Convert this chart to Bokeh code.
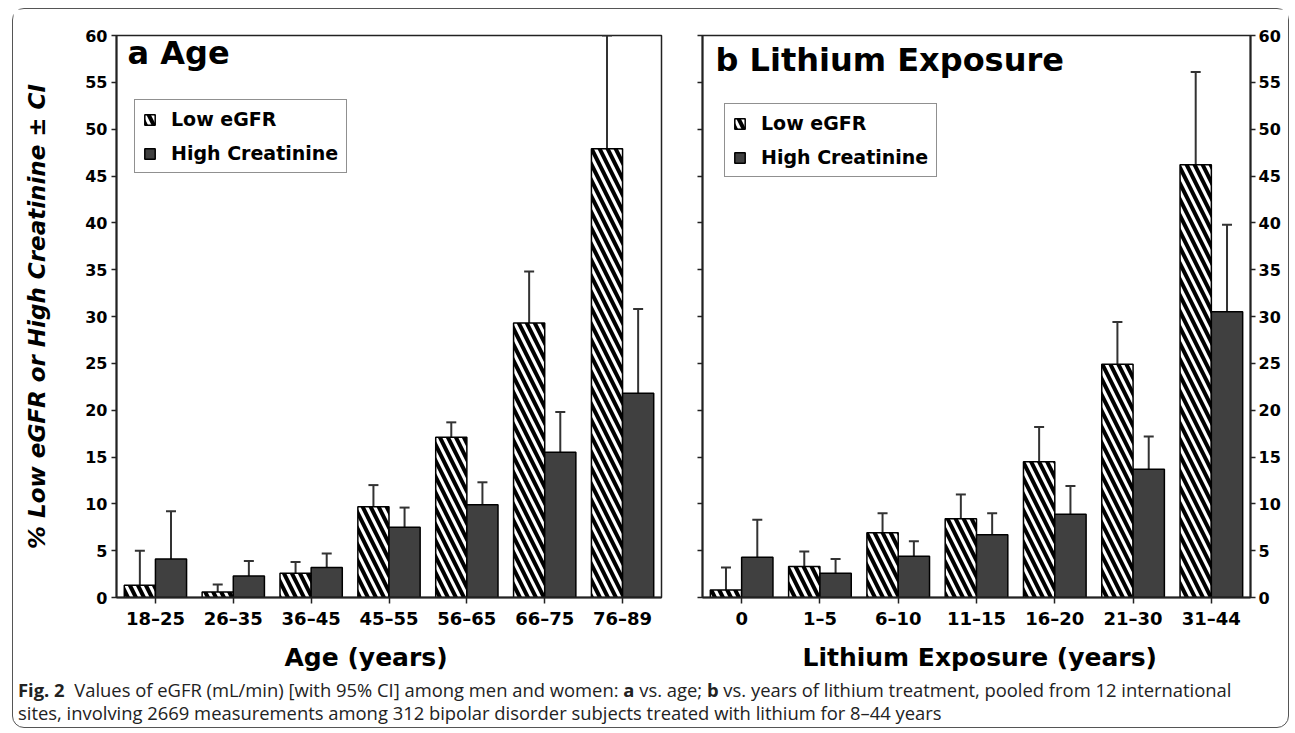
import numpy as np
from bokeh.plotting import figure
from bokeh.models import (Range1d, FixedTicker, LinearAxis, Legend, LegendItem, Label,
                          ColumnDataSource, Whisker, TeeHead, Title, Div)
from bokeh.layouts import row, column
from bokeh.embed import file_html
from bokeh.resources import INLINE

# ---------------- data ----------------
age_groups = ["18–25", "26–35", "36–45", "45–55", "56–65", "66–75", "76–89"]
age_low_egfr = [1.3, 0.6, 2.6, 9.7, 17.1, 29.3, 47.9]
age_low_egfr_ci = [5.0, 1.4, 3.8, 12.0, 18.7, 34.8, 60.0]
age_high_creat = [4.1, 2.3, 3.2, 7.5, 9.9, 15.5, 21.8]
age_high_creat_ci = [9.2, 3.9, 4.7, 9.6, 12.3, 19.8, 30.8]

li_groups = ["0", "1–5", "6–10", "11–15", "16–20", "21–30", "31–44"]
li_low_egfr = [0.8, 3.3, 6.9, 8.4, 14.5, 24.9, 46.2]
li_low_egfr_ci = [3.2, 4.9, 9.0, 11.0, 18.2, 29.4, 56.1]
li_high_creat = [4.3, 2.6, 4.4, 6.7, 8.9, 13.7, 30.5]
li_high_creat_ci = [8.3, 4.1, 6.0, 9.0, 11.9, 17.2, 39.8]

y_ticks = list(range(0, 61, 5))
series_names = ["Low eGFR", "High Creatinine"]

FONT = "DejaVu Sans"
BAR_W = 0.4


def style_axis(ax, size="16px"):
    ax.axis_line_color = "#222"
    ax.axis_line_width = 2
    ax.major_tick_line_color = "#222"
    ax.major_tick_line_width = 1.5
    ax.major_tick_in = 0
    ax.minor_tick_line_color = None
    ax.major_label_text_font = FONT
    ax.major_label_text_font_style = "bold"
    ax.major_label_text_font_size = size
    ax.major_label_text_color = "black"


def make_panel(groups, low, low_ci, high, high_ci, title, xlabel, xlabel_offset,
               width, mbl, mbr, right_axis, legend_loc, title_off):
    p = figure(width=width, height=672,
               x_range=Range1d(-0.5, len(groups) - 0.5), y_range=Range1d(0, 60),
               output_backend="svg", toolbar_location=None,
               min_border_left=mbl, min_border_right=mbr,
               min_border_top=26, min_border_bottom=84,
               y_axis_location="right" if right_axis else "left")
    p.grid.visible = False
    p.outline_line_color = "#222"
    p.outline_line_width = 1.5
    p.background_fill_color = "white"
    p.border_fill_color = "white"

    idx = np.arange(len(groups))
    src_low = ColumnDataSource(dict(x=idx - BAR_W / 2, top=low, ci=low_ci))
    src_high = ColumnDataSource(dict(x=idx + BAR_W / 2, top=high, ci=high_ci))

    r1 = p.vbar(x="x", top="top", bottom=0, width=BAR_W, source=src_low,
                fill_color="white", line_color="black", line_width=1.5,
                hatch_pattern="\\", hatch_color="black", hatch_scale=16, hatch_weight=4)
    r2 = p.vbar(x="x", top="top", bottom=0, width=BAR_W, source=src_high,
                fill_color="#404040", line_color="black", line_width=1.5)

    for src in (src_low, src_high):
        w = Whisker(source=src, base="x", lower="top", upper="ci",
                    line_color="#333", line_width=2, lower_head=None,
                    upper_head=TeeHead(size=10, line_color="#333", line_width=2))
        p.add_layout(w)

    # x axis
    xa = p.xaxis[0]
    xa.ticker = FixedTicker(ticks=list(idx))
    xa.major_label_overrides = {int(i): g for i, g in zip(idx, groups)}
    style_axis(xa, "18px")
    xa.major_tick_out = 6
    xa.major_label_standoff = 4

    # y axes
    ya = p.yaxis[0]
    style_axis(ya)
    ya.ticker = FixedTicker(ticks=y_ticks)
    ya.major_tick_out = 5
    if right_axis:
        ya.major_label_standoff = 3
        la = LinearAxis(ticker=FixedTicker(ticks=y_ticks))
        style_axis(la)
        la.major_tick_out = 5
        la.major_label_overrides = {t: "" for t in y_ticks}
        la.major_label_standoff = 0
        p.add_layout(la, "left")
    else:
        ya.major_label_standoff = 4
        ya.axis_label = "% Low eGFR or High Creatinine ± CI"
        ya.axis_label_text_font = FONT
        ya.axis_label_text_font_style = "bold italic"
        ya.axis_label_text_font_size = "23px"
        ya.axis_label_text_color = "black"
        ya.axis_label_standoff = 32

    t = Title(text=xlabel, align="left", offset=xlabel_offset,
              text_font=FONT, text_font_style="bold", text_font_size="25px",
              text_color="black", standoff=18)
    p.add_layout(t, "below")

    p.add_layout(Label(x=-0.5, y=60, x_offset=title_off[0], y_offset=title_off[1],
                       text=title, text_font=FONT, text_font_style="bold",
                       text_font_size="32px", text_color="black",
                       text_baseline="alphabetic"))

    legend = Legend(items=[LegendItem(label=series_names[0], renderers=[r1]),
                           LegendItem(label=series_names[1], renderers=[r2])],
                    location=legend_loc, label_text_font=FONT,
                    label_text_font_style="bold", label_text_font_size="19px",
                    label_text_color="black",
                    glyph_width=13, glyph_height=13, label_standoff=15,
                    padding=8, spacing=12, label_height=20, margin=0,
                    border_line_color="#222", border_line_width=1.5,
                    background_fill_color="white", background_fill_alpha=1)
    p.add_layout(legend)
    return p


p1 = make_panel(age_groups, age_low_egfr, age_low_egfr_ci, age_high_creat, age_high_creat_ci,
                "a Age", "Age (years)", 168, 667, 103, 19, False, (18, 424), (11, -17))
p2 = make_panel(li_groups, li_low_egfr, li_low_egfr_ci, li_high_creat, li_high_creat_ci,
                "b Lithium Exposure", "Lithium Exposure (years)", 100, 608, 22, 38, True,
                (22, 420), (13, -24))

caption = Div(text=(
    '<div style="font-family:\'Open Sans\'; font-size:18.4px; line-height:23px; color:#222;'
    ' white-space:nowrap; padding-left:5px; margin-top:-3px;"><b>Fig. 2</b>&nbsp; Values of eGFR (mL/min) '
    '[with 95% CI] among men and women: <b>a</b> vs. age; <b>b</b> vs. years of lithium '
    'treatment, pooled from 12 international<br>sites, involving 2669 measurements among '
    '312 bipolar disorder subjects treated with lithium for 8–44 years</div>'),
    width=1275, height=46, margin=(0, 0, 0, 0))

layout = column(row(p1, p2), caption,
                styles={"border": "1.5px solid #555", "border-radius": "12px",
                        "margin-left": "12px", "margin-top": "8px"})

open("out.html", "w").write(file_html(layout, INLINE))
